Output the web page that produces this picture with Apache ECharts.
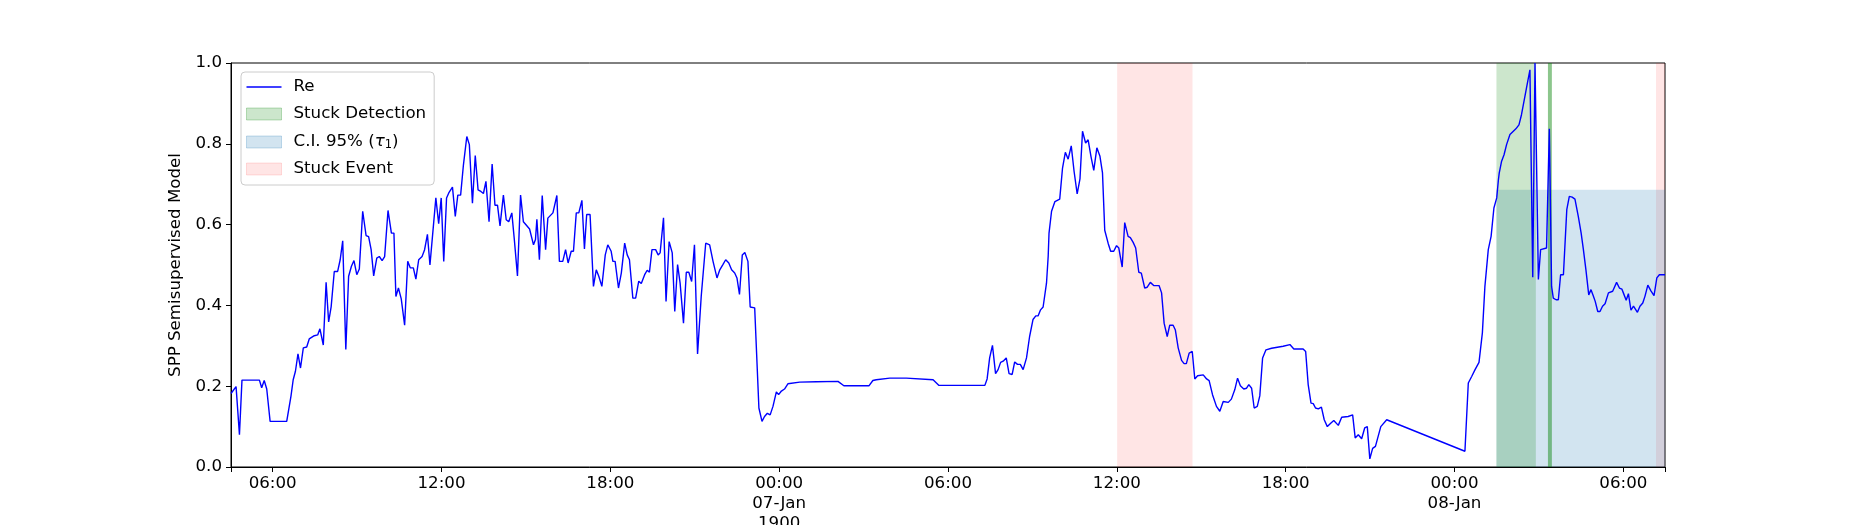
<!DOCTYPE html>
<html>
<head>
<meta charset="utf-8">
<script src="https://cdn.jsdelivr.net/npm/echarts@6/dist/echarts.min.js"></script>
<style>
html,body{margin:0;padding:0;background:#fff;}
#chart{width:1850px;height:525px;}
</style>
</head>
<body>
<div id="chart"></div>
<script>
// Hours since 1900-01-06 00:00
const hours = [
4.52,4.70,4.82,4.91,5.53,5.61,5.70,5.79,5.91,6.50,6.65,6.73,6.81,6.90,6.99,7.09,7.21,7.30,7.48,7.60,
7.68,7.80,7.90,7.99,8.08,8.19,8.31,8.40,8.49,8.60,8.70,8.80,8.89,8.99,9.08,9.20,9.32,9.41,9.50,9.59,
9.70,9.79,9.89,9.98,10.10,10.22,10.31,10.38,10.47,10.57,10.69,10.80,10.89,11.00,11.09,11.19,11.31,11.40,11.50,11.59,
11.69,11.80,11.90,11.99,12.08,12.18,12.27,12.39,12.49,12.58,12.68,12.78,12.90,12.99,13.10,13.20,13.30,13.40,13.49,13.58,
13.69,13.80,13.90,13.99,14.08,14.20,14.30,14.39,14.50,14.59,14.70,14.81,14.91,15.01,15.13,15.27,15.34,15.39,15.48,15.58,
15.70,15.78,15.96,16.10,16.19,16.31,16.41,16.50,16.61,16.69,16.79,16.88,16.99,17.08,17.16,17.28,17.40,17.50,17.59,17.70,
17.82,17.91,18.03,18.09,18.17,18.29,18.39,18.51,18.60,18.68,18.80,18.90,19.01,19.10,19.22,19.31,19.39,19.48,19.61,19.70,
19.77,19.89,19.98,20.09,20.20,20.29,20.39,20.48,20.60,20.70,20.79,20.89,20.99,21.10,21.23,21.39,21.53,21.65,21.79,21.89,
22.00,22.10,22.21,22.31,22.42,22.50,22.59,22.69,22.78,22.89,22.97,23.13,23.19,23.28,23.39,23.48,23.58,23.68,23.78,23.90,
23.98,24.08,24.19,24.31,24.73,25.32,26.09,26.30,27.19,27.33,27.45,27.93,28.52,29.47,29.68,31.31,31.39,31.48,31.58,31.69,
31.78,31.87,31.96,32.07,32.17,32.28,32.37,32.47,32.57,32.67,32.79,32.90,33.02,33.12,33.20,33.29,33.38,33.50,33.56,33.59,
33.68,33.80,33.97,34.07,34.17,34.27,34.38,34.48,34.59,34.69,34.78,34.89,34.98,35.08,35.18,35.29,35.40,35.49,35.57,35.69,
35.78,35.89,35.99,36.07,36.19,36.28,36.40,36.48,36.58,36.67,36.78,36.87,36.99,37.08,37.19,37.31,37.50,37.59,37.68,37.79,
37.88,38.00,38.08,38.18,38.30,38.39,38.47,38.57,38.68,38.77,38.87,39.07,39.19,39.28,39.40,39.54,39.66,39.78,39.96,40.07,
40.19,40.29,40.39,40.51,40.61,40.69,40.79,40.88,40.99,41.08,41.18,41.30,41.50,41.91,42.15,42.21,42.29,42.62,42.71,42.80,
42.90,42.98,43.06,43.16,43.27,43.37,43.48,43.61,43.71,43.78,43.87,43.99,44.22,44.38,44.47,44.58,44.70,44.81,44.90,44.99,
45.09,45.19,45.38,45.59,48.37,48.49,48.61,48.73,48.87,48.99,49.08,49.20,49.30,49.40,49.50,49.56,49.59,49.67,49.76,49.85,
49.97,50.09,50.18,50.29,50.38,50.50,50.60,50.68,50.78,50.86,50.90,50.98,51.06,51.13,51.27,51.37,51.45,51.51,51.61,51.69,
51.77,51.87,51.99,52.08,52.18,52.28,52.40,52.50,52.58,52.67,52.77,52.85,52.93,53.00,53.09,53.17,53.26,53.35,53.47,53.62,
53.76,53.86,53.95,54.00,54.10,54.18,54.27,54.36,54.50,54.59,54.69,54.77,54.87,54.98,55.09,55.19,55.28,55.48
];
const reValues = [
0.182,0.199,0.080,0.215,0.215,0.196,0.214,0.193,0.113,0.113,0.175,0.216,0.237,0.280,0.245,0.295,0.297,0.317,0.325,0.327,
0.342,0.302,0.457,0.359,0.397,0.484,0.484,0.513,0.560,0.291,0.472,0.497,0.511,0.476,0.490,0.633,0.573,0.570,0.538,0.473,
0.517,0.521,0.511,0.521,0.635,0.579,0.579,0.422,0.443,0.416,0.351,0.509,0.493,0.493,0.465,0.513,0.521,0.538,0.576,0.500,
0.579,0.666,0.602,0.666,0.509,0.666,0.680,0.693,0.620,0.673,0.673,0.748,0.818,0.798,0.653,0.771,0.686,0.682,0.677,0.707,
0.607,0.750,0.648,0.648,0.597,0.673,0.612,0.607,0.629,0.562,0.473,0.673,0.607,0.599,0.589,0.550,0.563,0.613,0.513,0.672,
0.538,0.616,0.629,0.672,0.509,0.509,0.538,0.505,0.534,0.534,0.629,0.629,0.660,0.540,0.625,0.625,0.447,0.488,0.472,0.447,
0.525,0.550,0.534,0.509,0.509,0.443,0.480,0.554,0.525,0.513,0.418,0.418,0.460,0.454,0.476,0.487,0.482,0.538,0.538,0.525,
0.530,0.617,0.410,0.558,0.530,0.385,0.501,0.455,0.356,0.482,0.482,0.459,0.550,0.280,0.422,0.554,0.550,0.509,0.468,0.488,
0.501,0.513,0.505,0.488,0.480,0.468,0.427,0.525,0.531,0.509,0.396,0.394,0.390,0.146,0.113,0.125,0.133,0.129,0.150,0.186,
0.179,0.188,0.193,0.206,0.210,0.211,0.212,0.201,0.201,0.214,0.216,0.220,0.220,0.216,0.202,0.202,0.218,0.270,0.301,0.231,
0.241,0.259,0.262,0.270,0.231,0.229,0.260,0.254,0.254,0.241,0.270,0.323,0.365,0.374,0.374,0.389,0.396,0.455,0.521,0.579,
0.633,0.657,0.663,0.740,0.779,0.762,0.795,0.732,0.676,0.713,0.831,0.802,0.810,0.769,0.734,0.790,0.769,0.728,0.586,0.554,
0.534,0.534,0.548,0.542,0.495,0.605,0.571,0.568,0.556,0.542,0.482,0.480,0.443,0.445,0.457,0.449,0.449,0.431,0.356,0.323,
0.351,0.351,0.339,0.295,0.264,0.256,0.256,0.282,0.286,0.218,0.226,0.228,0.218,0.214,0.179,0.150,0.138,0.162,0.160,0.168,
0.191,0.220,0.201,0.193,0.195,0.204,0.195,0.146,0.150,0.176,0.270,0.290,0.294,0.299,0.303,0.300,0.292,0.292,0.286,0.204,
0.158,0.157,0.146,0.144,0.148,0.117,0.100,0.109,0.115,0.113,0.103,0.123,0.125,0.129,0.072,0.080,0.070,0.097,0.100,0.020,
0.046,0.051,0.100,0.117,0.039,0.208,0.224,0.241,0.259,0.332,0.447,0.538,0.571,0.641,0.666,0.711,0.728,0.756,0.773,0.798,
0.823,0.831,0.837,0.847,0.872,0.917,0.954,0.983,0.470,1.000,1.000,0.464,0.538,0.534,0.542,0.837,0.447,0.418,0.414,0.414,
0.476,0.476,0.637,0.670,0.668,0.663,0.620,0.579,0.538,0.488,0.426,0.439,0.424,0.410,0.385,0.385,0.398,0.404,0.431,0.435,
0.457,0.443,0.440,0.431,0.413,0.429,0.388,0.398,0.383,0.398,0.406,0.423,0.450,0.436,0.424,0.468,0.476,0.476
];
// shaded spans (hours since 1900-01-06 00:00)
const stuckEventSpans = [[36.01, 38.69], [55.16, 55.48]];
const stuckDetectionSpans = [[49.49, 50.89], [51.32, 51.46]];
const ciSpan = [49.49, 55.48];
const ciUpper = 0.686;
const xMin = 4.52, xMax = 55.48;
const xTickHours = [6, 12, 18, 24, 30, 36, 42, 48, 54];
const xTickLabels = ['06:00','12:00','18:00','00:00\n07-Jan\n1900','06:00','12:00','18:00','00:00\n08-Jan','06:00'];
const seriesNames = ['Re', 'Stuck Detection', 'C.I. 95% (τ1)', 'Stuck Event'];

const FONT = '"DejaVu Sans", sans-serif';
const FS = 16.67;
const lineData = hours.map((h, i) => [h, reValues[i]]);
const GREEN = 'rgba(0,128,0,0.2)';
const BLUE = 'rgba(31,119,180,0.2)';
const RED = 'rgba(255,0,0,0.1)';

const chart = echarts.init(document.getElementById('chart'), null, {renderer: 'canvas'});
const option = {
  animation: false,
  backgroundColor: '#ffffff',
  textStyle: {fontFamily: FONT},
  grid: {left: 231, right: 185, top: 63, bottom: 58, show: true, borderColor: '#000', borderWidth: 1,
         backgroundColor: 'transparent', containLabel: false, outerBoundsMode: 'none'},
  xAxis: {
    type: 'value', min: xMin, max: xMax,
    axisLine: {show: true, lineStyle: {color: '#000', width: 1}},
    axisTick: {show: true, inside: false, length: 5, lineStyle: {color: '#000'},
               customValues: [xMin].concat(xTickHours, [xMax])},
    axisLabel: {show: true, color: '#000', fontSize: FS, fontFamily: FONT, margin: 7, lineHeight: 20,
                customValues: xTickHours,
                formatter: function (v) { const i = xTickHours.findIndex(t => Math.abs(t - v) < 1e-6); return i >= 0 ? xTickLabels[i] : ''; }},
    splitLine: {show: false}
  },
  yAxis: {
    type: 'value', min: 0, max: 1, interval: 0.2,
    name: 'SPP Semisupervised Model', nameLocation: 'middle', nameGap: 43, nameRotate: 90,
    nameTextStyle: {color: '#000', fontSize: FS, fontFamily: FONT},
    axisLine: {show: true, lineStyle: {color: '#000', width: 1}},
    axisTick: {show: true, inside: false, length: 5, lineStyle: {color: '#000'}},
    axisLabel: {color: '#000', fontSize: FS, fontFamily: FONT, margin: 9,
                formatter: v => v.toFixed(1)},
    splitLine: {show: false}
  },
  legend: {
    orient: 'vertical', left: 241, top: 72,
    padding: [6, 8, 7, 5], itemGap: 9, itemWidth: 35, itemHeight: 12,
    backgroundColor: 'rgba(255,255,255,0.8)', borderColor: '#cccccc', borderWidth: 1, borderRadius: 4,
    textStyle: {color: '#000', fontSize: FS, fontFamily: FONT, padding: [0, 0, 0, 7], lineHeight: 18,
      rich: {
        n: {fontSize: FS, fontFamily: FONT, color: '#000', lineHeight: 18},
        t: {fontSize: FS, fontFamily: FONT, fontStyle: 'italic', color: '#000', lineHeight: 18},
        s: {fontSize: 11.5, fontFamily: FONT, color: '#000', verticalAlign: 'bottom', lineHeight: 18, padding: [7, 0, 0, 0]}
      }},
    formatter: function (name) {
      if (name === seriesNames[2]) return '{n|C.I. 95% (}{t|τ}{s|1}{n|)}';
      return name;
    },
    data: [
      {name: seriesNames[0], icon: 'path://M0,0 L35,0 L35,1.4 L0,1.4 Z', itemStyle: {color: '#0000ff'}},
      {name: seriesNames[1], icon: 'rect', itemStyle: {color: GREEN, borderColor: 'rgba(0,128,0,0.25)', borderWidth: 1}},
      {name: seriesNames[2], icon: 'rect', itemStyle: {color: BLUE, borderColor: 'rgba(31,119,180,0.25)', borderWidth: 1}},
      {name: seriesNames[3], icon: 'rect', itemStyle: {color: RED, borderColor: 'rgba(255,0,0,0.12)', borderWidth: 1}}
    ]
  },
  series: [
    {
      name: seriesNames[3], type: 'line', data: [], z: 1, itemStyle: {color: RED},
      markArea: {silent: true, itemStyle: {color: RED},
        data: stuckEventSpans.map(s => [{xAxis: s[0]}, {xAxis: s[1]}])}
    },
    {
      name: seriesNames[2], type: 'line', data: [], z: 1, itemStyle: {color: BLUE},
      markArea: {silent: true, itemStyle: {color: BLUE},
        data: [[{xAxis: ciSpan[0], yAxis: 0}, {xAxis: ciSpan[1], yAxis: ciUpper}]]}
    },
    {
      name: seriesNames[1], type: 'line', data: [], z: 1, itemStyle: {color: GREEN},
      markArea: {silent: true,
        data: stuckDetectionSpans.map((s, i) => [{xAxis: s[0], itemStyle: {color: i === 0 ? GREEN : 'rgba(0,128,0,0.45)'}}, {xAxis: s[1]}])}
    },
    {
      name: seriesNames[0], type: 'line', data: lineData, z: 5,
      symbol: 'none', showSymbol: false, clip: true,
      lineStyle: {color: '#0000ff', width: 1.4}, itemStyle: {color: '#0000ff'}
    }
  ]
};
chart.setOption(option);
</script>
</body>
</html>
